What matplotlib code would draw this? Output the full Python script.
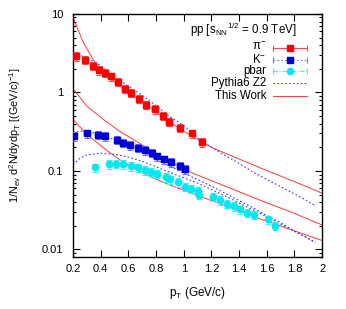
import numpy as np
import matplotlib
matplotlib.use("Agg")
from matplotlib import pyplot as plt
from matplotlib.ticker import FixedLocator, NullFormatter

plt.rcParams['font.family'] = ['Liberation Sans', 'DejaVu Sans']
plt.rcParams['mathtext.fontset'] = 'custom'
plt.rcParams['mathtext.rm'] = 'Liberation Sans'
plt.rcParams['mathtext.it'] = 'Liberation Sans:italic'
plt.rcParams['mathtext.default'] = 'regular'

# measured spectra
pion_pt = [0.22, 0.29, 0.345, 0.39, 0.433, 0.474, 0.524, 0.574, 0.62, 0.68,
           0.73, 0.79, 0.85, 0.89, 0.97, 1.06, 1.13]
pion_y = [2.88, 2.58, 2.17, 1.91, 1.77, 1.60, 1.37, 1.11, 0.98, 0.83,
          0.70, 0.61, 0.50, 0.42, 0.355, 0.30, 0.232]

kaon_pt = [0.21, 0.30, 0.38, 0.43, 0.52, 0.56, 0.61, 0.67, 0.72, 0.77,
           0.81, 0.86, 0.91, 0.97, 1.01]
kaon_y = [0.277, 0.30, 0.289, 0.277, 0.247, 0.229, 0.213, 0.197, 0.184, 0.171,
          0.153, 0.140, 0.129, 0.117, 0.105]

pbar_pt = [0.36, 0.46, 0.51, 0.56, 0.62, 0.67, 0.72, 0.76, 0.81, 0.87,
           0.90, 0.96, 1.01, 1.05, 1.10, 1.11, 1.21, 1.26, 1.31, 1.36,
           1.41, 1.46, 1.51, 1.61, 1.66]
pbar_y = [0.111, 0.122, 0.124, 0.122, 0.115, 0.111, 0.102, 0.097, 0.092, 0.083,
          0.078, 0.072, 0.063, 0.059, 0.056, 0.050, 0.0466, 0.0423, 0.0385, 0.0356,
          0.0323, 0.0295, 0.0277, 0.0241, 0.0202]

# Pythia6 Z2 curves
py_pt = [0.2, 0.25, 0.3, 0.4, 0.5, 0.6, 0.7, 0.8, 0.9, 1.0, 1.1, 1.2, 1.3,
         1.4, 1.5, 1.6, 1.7, 1.8, 1.9, 1.95]
py_pion = [3.0, 2.95, 2.75, 2.2, 1.6, 1.2, 0.92, 0.68, 0.49, 0.38, 0.265, 0.2,
           0.157, 0.125, 0.097, 0.078, 0.063, 0.051, 0.041, 0.036]
py_kaon = [0.31, 0.32, 0.32, 0.29, 0.25, 0.205, 0.17, 0.14, 0.115, 0.094, 0.078,
           0.064, 0.052, 0.042, 0.034, 0.027, 0.022, 0.0172, 0.0138, 0.0122]
py_pbar = [0.12, 0.145, 0.16, 0.168, 0.163, 0.15, 0.133, 0.113, 0.096, 0.082,
           0.07, 0.058, 0.048, 0.039, 0.032, 0.026, 0.021, 0.017, 0.0138, 0.0124]

# This Work curves
tw_pion_pt = [0.2, 0.275, 0.345, 0.42, 0.54, 0.655, 0.775, 0.89, 1.01, 1.13,
              1.2, 1.3, 1.4, 1.5, 1.6, 1.7, 1.8, 1.9, 2.0]
tw_pion = [9.0, 4.3, 2.63, 1.78, 1.20, 0.855, 0.607, 0.431, 0.312, 0.235,
           0.20, 0.168, 0.142, 0.12, 0.101, 0.086, 0.073, 0.062, 0.052]
tw_pt = [0.2, 0.3, 0.42, 0.535, 0.655, 0.775, 0.89, 1.07, 1.31, 1.55, 1.79, 2.0]
tw_kaon = [1.12, 0.669, 0.453, 0.321, 0.24, 0.179, 0.133, 0.093, 0.063, 0.0425,
           0.0293, 0.0205]
tw_pbar = [0.453, 0.292, 0.197, 0.14, 0.104, 0.082, 0.0673, 0.051, 0.0356, 0.0246,
           0.0175, 0.013]

fig = plt.figure(figsize=(3.46, 3.09), dpi=100)
ax = fig.add_axes([0.211, 0.168, 0.72, 0.787])

line_red = '#ff3a3a'
py_blue = '#3c3cff'

ax.plot(tw_pion_pt, tw_pion, color=line_red, lw=0.7)
ax.plot(tw_pt, tw_kaon, color=line_red, lw=0.7)
ax.plot(tw_pt, tw_pbar, color=line_red, lw=0.7)

for vals in (py_pion, py_kaon, py_pbar):
    ax.plot(py_pt, vals, color=py_blue, lw=0.8, ls=(0, (1.5, 2)))


def draw_points(pt, y, color, err_color, box_color, marker):
    pt = np.array(pt)
    y = np.array(y)
    sys = 0.08 * y
    ax.bar(pt, 2 * sys, bottom=y - sys, width=0.05, color=box_color,
           alpha=0.6, lw=0, zorder=3)
    ax.errorbar(pt, y, yerr=0.12 * y, fmt='none', ecolor=err_color,
                elinewidth=0.8, capsize=2.5, capthick=0.8, zorder=4)
    ax.plot(pt, y, ls='none', marker=marker, ms=4.5, color=color,
            mec=color, zorder=5)


draw_points(pion_pt, pion_y, '#ff0000', '#ff4a4a', '#ffa0a0', 's')
draw_points(kaon_pt, kaon_y, '#0000d8', '#6f6fff', '#a8a8ff', 's')
draw_points(pbar_pt, pbar_y, '#00e8f0', '#40f0f0', '#a0ffff', 'o')

ax.set_yscale('log')
ax.set_xlim(0.2, 2.0)
ax.set_ylim(0.008, 10)

ax.xaxis.set_major_locator(FixedLocator([0.2, 0.4, 0.6, 0.8, 1.0, 1.2, 1.4, 1.6, 1.8, 2.0]))
ax.set_xticklabels(['0.2', '0.4', '0.6', '0.8', '1', '1.2', '1.4', '1.6', '1.8', '2'])
ax.yaxis.set_major_locator(FixedLocator([0.01, 0.1, 1, 10]))
ax.set_yticklabels(['0.01', '0.1', '1', '10'])
minor = [m * 10.0 ** e for e in range(-3, 1) for m in range(2, 10)]
ax.yaxis.set_minor_locator(FixedLocator(minor))
ax.yaxis.set_minor_formatter(NullFormatter())
ax.tick_params(which='both', direction='in', top=True, right=True,
               labelsize=8, width=0.8, colors='black')
ax.tick_params(which='major', length=5)
ax.tick_params(axis='x', which='major', pad=5)
ax.tick_params(axis='y', which='major', pad=7)
ax.tick_params(which='minor', length=2.5)
for s in ax.spines.values():
    s.set_linewidth(1.0)

ax.set_xlabel(r'p$_T$ (GeV/c)', fontsize=8.5)
ax.xaxis.set_label_coords(0.5, -0.115)
ax.set_ylabel(r'1/N$_{ev}$ d$^2$N/dydp$_T$ [(GeV/c)$^{-1}$]', fontsize=7.8)
ax.yaxis.set_label_coords(-0.2, 0.5)

ax.text(0.896, 0.934, r'pp [s$_{NN}$$^{1/2}$ = 0.9 TeV]', transform=ax.transAxes,
        ha='right', va='center', fontsize=8.3)

# legend drawn by hand, gnuplot style
leg_x = 0.775
leg_mid = 0.871
leg_half = 0.07
rows = [0.861, 0.811, 0.765, 0.715, 0.664]
labels = [r'$\pi^{-}$', r'K$^{-}$', 'pbar', 'Pythia6 Z2', 'This Work']
for yy, lab in zip(rows, labels):
    ax.text(leg_x, yy, lab, transform=ax.transAxes, ha='right', va='center',
            fontsize=8.3)

entries = [('#ff0000', '#ff4a4a', 's', '-'),
           ('#0000d8', '#6f6fff', 's', (0, (1.5, 2))),
           ('#00e8f0', '#40f0f0', 'o', (0, (4, 1.5, 1, 1.5)))]
for yy, (c, ec, mk, ls) in zip(rows[:3], entries):
    cont = ax.errorbar([leg_mid], [yy], xerr=[leg_half], transform=ax.transAxes,
                       fmt=mk, ms=4.5, color=c, mec=c, ecolor=ec,
                       elinewidth=0.8, capsize=2.5, capthick=0.8, clip_on=False)
    for lc in cont[2]:
        lc.set_linestyle(ls)
ax.plot([leg_mid - leg_half, leg_mid + leg_half], [rows[3], rows[3]],
        transform=ax.transAxes, color=py_blue, lw=0.8, ls=(0, (1.5, 2)))
ax.plot([leg_mid - leg_half, leg_mid + leg_half], [rows[4], rows[4]],
        transform=ax.transAxes, color=line_red, lw=0.7)

fig.savefig('out.png', dpi=100)
